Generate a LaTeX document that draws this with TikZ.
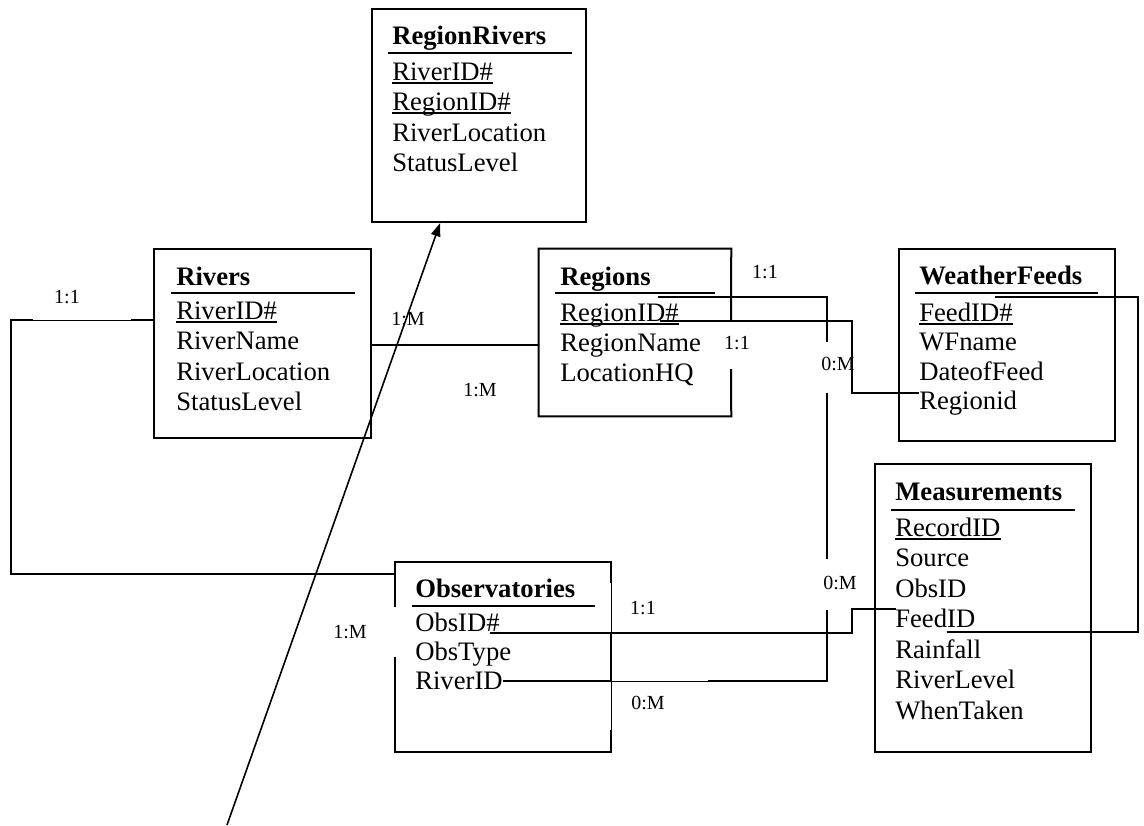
\documentclass[tikz,border=0pt]{standalone}
\usepackage{fontspec}
\setmainfont{Liberation Serif}
\usetikzlibrary{arrows.meta,fit,calc}
\begin{document}
\begin{tikzpicture}[x=0.75pt,y=-0.75pt,
  tbl/.style={draw, line width=1.5pt, inner sep=0pt, rectangle},
  tblnd/.style={inner sep=0pt, rectangle},
  fld/.style={anchor=base west, inner sep=0pt, font=\fontsize{20}{24}\selectfont},
  ttl/.style={anchor=base west, inner sep=0pt, font=\fontsize{20}{24}\selectfont\bfseries},
  card/.style={inner sep=0pt, font=\fontsize{15}{18}\selectfont},
  conn/.style={line width=1.5pt},
  faint/.style={line width=0.6pt},
  ul/.style={line width=1.5pt}]
\fill[white] (0,0) rectangle (1144,825);
\useasboundingbox (0,0) rectangle (1144,825);

% ---------- RegionRivers
\node[tbl, fit={(372,9)(586,222)}] (rr) {};
\node[ttl] (rrT) at (392,44) {RegionRivers};
\node[fld] (rr1) at (392,80) {RiverID\#};
\node[fld] (rr2) at (392,110.5) {RegionID\#};
\node[fld] (rr3) at (392,141) {RiverLocation};
\node[fld] (rr4) at (392,171.5) {StatusLevel};
\draw[ul] ([xshift=-3pt,yshift=-6.75pt]rrT.base west) -- ++(184,0);
\draw[ul] ([yshift=-1.9pt]rr1.base west) -- ([yshift=-1.9pt]rr1.base east);
\draw[ul] ([yshift=-1.9pt]rr2.base west) -- ([yshift=-1.9pt]rr2.base east);

% ---------- Rivers
\node[tbl, fit={(154,249)(371,438)}] (rv) {};
\node[ttl] (rvT) at (176,285) {Rivers};
\node[fld] (rv1) at (176,319) {RiverID\#};
\node[fld] (rv2) at (176,349.5) {RiverName};
\node[fld] (rv3) at (176,380) {RiverLocation};
\node[fld] (rv4) at (176,410.5) {StatusLevel};
\draw[ul] ([xshift=-3.5pt,yshift=-6pt]rvT.base west) -- ++(184,0);
\draw[ul] ([yshift=-1.9pt]rv1.base west) -- ([yshift=-1.9pt]rv1.base east);

% ---------- Regions (outline with a gap)
\node[tblnd, fit={(539,249)(731,416)}] (rg) {};
\coordinate (rgA) at (731,321);
\coordinate (rgB) at (731,369);
\draw[conn] (rgA) -- (rg.north east) -- (rg.north west) -- (rg.south west) -- (rg.south east) -- (rgB);
\node[ttl] (rgT) at (560,285) {Regions};
\node[fld] (rg1) at (560,321) {RegionID\#};
\node[fld] (rg2) at (560,351) {RegionName};
\node[fld] (rg3) at (560,381) {LocationHQ};
\draw[ul] ([xshift=-3.5pt,yshift=-6pt]rgT.base west) -- ++(160,0);
\draw[ul] ([yshift=-1.9pt]rg1.base west) -- ([yshift=-1.9pt]rg1.base east);

% ---------- WeatherFeeds
\node[tbl, fit={(899,249)(1115,441)}] (wf) {};
\node[ttl] (wfT) at (919,284) {WeatherFeeds};
\node[fld] (wf1) at (919,321) {FeedID\#};
\node[fld] (wf2) at (919,350.5) {WFname};
\node[fld] (wf3) at (919,380) {DateofFeed};
\node[fld] (wf4) at (919,409.5) {Regionid};
\draw[ul] ([xshift=-3pt,yshift=-6.75pt]wfT.base west) -- ++(183,0);
\draw[ul] ([yshift=-1.9pt]wf1.base west) -- ([yshift=-1.9pt]wf1.base east);

% ---------- Measurements
\node[tbl, fit={(875,464)(1091,752)}] (ms) {};
\node[ttl] (msT) at (895,500) {Measurements};
\node[fld] (ms1) at (895,536) {RecordID};
\node[fld] (ms2) at (895,566.5) {Source};
\node[fld] (ms3) at (895,597) {ObsID};
\node[fld] (ms4) at (895,627.5) {FeedID};
\node[fld] (ms5) at (895,658) {Rainfall};
\node[fld] (ms6) at (895,688.5) {RiverLevel};
\node[fld] (ms7) at (895,719) {WhenTaken};
\draw[ul] ([xshift=-3pt,yshift=-7.5pt]msT.base west) -- ++(184,0);
\draw[ul] ([yshift=-1.9pt]ms1.base west) -- ([yshift=-1.9pt]ms1.base east);

% ---------- Observatories (outline with gaps)
\node[tblnd, fit={(395,562)(611,752)}] (ob) {};
\draw[conn] (ob.west |- 0,607) -- (ob.north west) -- (ob.north east) -- (ob.east |- 0,583);
\draw[faint] (ob.east |- 0,583) -- (ob.east |- 0,730);
\draw[conn] (ob.east |- 0,633) -- (ob.east |- 0,681);
\draw[conn] (ob.east |- 0,730) -- (ob.south east) -- (ob.south west) -- (ob.west |- 0,657);
\node[ttl] (obT) at (415,597) {Observatories};
\node[fld] (ob1) at (415,631) {ObsID\#};
\node[fld] (ob2) at (415,660) {ObsType};
\node[fld] (ob3) at (415,689) {RiverID};
\draw[ul] ([xshift=-2.25pt,yshift=-6.75pt]obT.base west) -- ++(183,0);

% ---------- connectors
% Rivers -- Observatories (left loop)
\coordinate (c1a) at (131,320);
\coordinate (c1b) at (33,320);
\coordinate (c1c) at (11,320);
\coordinate (c1d) at (11,574);
\draw[conn] (rv.west |- c1a) -- (c1a);
\draw[faint] (c1a) -- (c1b);
\draw[conn] (c1b) -- (c1c) -- (c1d) -- (ob.west |- c1d);

% Rivers -- Regions
\coordinate (c2) at (0,345);
\draw[conn] (rv.east |- c2) -- (rg.west |- c2);

% arrow to RegionRivers
\coordinate (arrS) at (227,825);
\draw[line width=1.2pt, -{Triangle[length=10pt,width=7pt]}] (arrS) -- ($(rr.south west)!0.32!(rr.south east)$);

% Observatories.RiverID -- Regions
\coordinate (c4a) at (708,681);
\coordinate (c4b) at (827,681);
\coordinate (c4c) at (827,610);
\coordinate (c4d) at (827,559);
\coordinate (c4e) at (827,393);
\coordinate (c4f) at (827,342);
\coordinate (c4g) at (827,297);
\coordinate (c4h) at (658,297);
\draw[conn] (ob3.east |- c4a) -- (ob.east |- c4a);
\draw[faint] (ob.east |- c4a) -- (c4a);
\draw[conn] (c4a) -- (c4b) -- (c4c);
\draw[conn] (c4d) -- (c4e);
\draw[conn] (c4f) -- (c4g) -- (c4h);

% Regions.RegionID -- WeatherFeeds.Regionid
\coordinate (c5a) at (660,321);
\coordinate (c5b) at (852,321);
\coordinate (c5c) at (852,393);
\draw[conn] (c5a) -- (c5b) -- (c5c) -- (wf4.west |- c5c);

% WeatherFeeds -- Measurements.FeedID
\coordinate (c6a) at (995,297);
\coordinate (c6b) at (1138,297);
\coordinate (c6c) at (1138,632);
\coordinate (c6d) at (947,632);
\draw[conn] (c6a) -- (c6b) -- (c6c) -- (c6d);

% Observatories.ObsID -- Measurements
\coordinate (c7a) at (490,633);
\coordinate (c7b) at (852,633);
\coordinate (c7c) at (852,609);
\draw[conn] (c7a) -- (c7b) -- (c7c) -- (ms.west |- c7c) -- ++(22,0);

% ---------- cardinality labels
\node[card] (l1) at (67,297) {1:1};
\node[card] (l2) at (408,319) {1:M};
\node[card] (l3) at (480,390) {1:M};
\node[card] (l4) at (765,272) {1:1};
\node[card] (l5) at (737,343) {1:1};
\node[card] (l6) at (838,364) {0:M};
\node[card] (l7) at (840,583) {0:M};
\node[card] (l8) at (643,608) {1:1};
\node[card] (l9) at (648,703) {0:M};
\node[card] (l10) at (350,632) {1:M};
\end{tikzpicture}
\end{document}
